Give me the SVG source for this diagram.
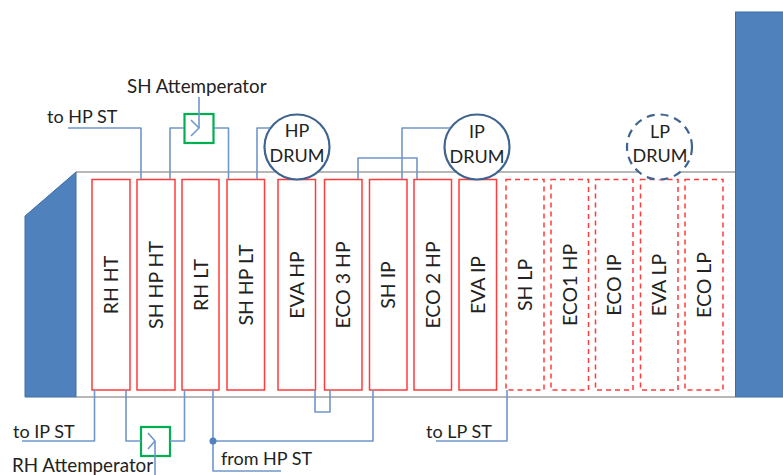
<svg xmlns="http://www.w3.org/2000/svg" width="783" height="475" viewBox="0 0 783 475">
<style>
text{font-family:Lato,"Liberation Sans",sans-serif;fill:#222;font-size:18px}
.c{text-anchor:middle}
.b{fill:#fff;stroke:#ff3b3b;stroke-width:1.5}
.d{fill:#fff;stroke:#ff3b3b;stroke-width:1.5;stroke-dasharray:5 4}
.w{fill:none;stroke:#6f97cc;stroke-width:1.6;stroke-linejoin:round}
.a{fill:none;stroke:#00b050;stroke-width:2.2}
.dr{fill:#fff;stroke:#3e648f;stroke-width:2.2}
.s{fill:#4f81bd;stroke:#3f6ea6;stroke-width:1}
.v{font-size:19.500px}
.l{font-size:18.800px}
</style>
<g id="casing">
<path d="M76 172H735M76 397H735" fill="none" stroke="#a0a0a0" stroke-width="1.5"/>
<path class="s" d="M25 216L76 172V397H25Z"/>
<rect class="s" x="735.500" y="12" width="48" height="385"/>
</g>
<g id="nodes">
<g id="rh-ht"><rect class="b" x="92" y="179.500" width="38" height="210.500"/><text class="c v" transform="translate(118 285) rotate(-90)">RH HT</text></g>
<g id="sh-hp-ht"><rect class="b" x="137" y="179.500" width="38" height="210.500"/><text class="c v" transform="translate(163 285) rotate(-90)">SH HP HT</text></g>
<g id="rh-lt"><rect class="b" x="182" y="179.500" width="37" height="210.500"/><text class="c v" transform="translate(208 285) rotate(-90)">RH LT</text></g>
<g id="sh-hp-lt"><rect class="b" x="227" y="179.500" width="37.500" height="210.500"/><text class="c v" transform="translate(253 285) rotate(-90)">SH HP LT</text></g>
<g id="eva-hp"><rect class="b" x="278" y="179.500" width="37.500" height="210.500"/><text class="c v" transform="translate(304 285) rotate(-90)">EVA HP</text></g>
<g id="eco3-hp"><rect class="b" x="324.500" y="179.500" width="37.500" height="210.500"/><text class="c v" transform="translate(350 285) rotate(-90)">ECO 3 HP</text></g>
<g id="sh-ip"><rect class="b" x="369.500" y="179.500" width="37.500" height="210.500"/><text class="c v" transform="translate(395 285) rotate(-90)">SH IP</text></g>
<g id="eco2-hp"><rect class="b" x="414" y="179.500" width="37.500" height="210.500"/><text class="c v" transform="translate(440 285) rotate(-90)">ECO 2 HP</text></g>
<g id="eva-ip"><rect class="b" x="459" y="179.500" width="37.500" height="210.500"/><text class="c v" transform="translate(485 285) rotate(-90)">EVA IP</text></g>
<g id="sh-lp"><rect class="d" x="506" y="179.500" width="38" height="210.500"/><text class="c v" transform="translate(532 285) rotate(-90)">SH LP</text></g>
<g id="eco1-hp"><rect class="d" x="551" y="179.500" width="37.500" height="210.500"/><text class="c v" transform="translate(577 285) rotate(-90)">ECO1 HP</text></g>
<g id="eco-ip"><rect class="d" x="595.500" y="179.500" width="37.500" height="210.500"/><text class="c v" transform="translate(621 285) rotate(-90)">ECO IP</text></g>
<g id="eva-lp"><rect class="d" x="640.500" y="179.500" width="37.500" height="210.500"/><text class="c v" transform="translate(666 285) rotate(-90)">EVA LP</text></g>
<g id="eco-lp"><rect class="d" x="685" y="179.500" width="38" height="210.500"/><text class="c v" transform="translate(711 285) rotate(-90)">ECO LP</text></g>
<g id="hp-drum"><circle class="dr" cx="297" cy="147" r="32.500"/><text class="c" x="297" y="137">HP</text><text class="c" x="297" y="162">DRUM</text></g>
<g id="ip-drum"><circle class="dr" cx="477" cy="147" r="32.500"/><text class="c" x="477" y="138">IP</text><text class="c" x="477" y="163">DRUM</text></g>
<g id="lp-drum"><circle class="dr" cx="659.500" cy="147" r="32.500" stroke-dasharray="8 6"/><text class="c" x="660" y="138">LP</text><text class="c" x="660" y="162">DRUM</text></g>
<g id="sh-attemperator"><rect class="a" x="184.500" y="114" width="29" height="29" fill="#fff"/></g>
<g id="rh-attemperator"><rect class="a" x="141" y="427" width="29" height="29" fill="#fff"/></g>
</g>
<g id="connectors">
<path class="w" d="M68 128H141V179"/>
<path class="w" d="M170 179V128H184"/>
<path class="w" d="M214 128H228.500V179"/>
<path class="w" d="M199 97V128"/>
<path class="w" d="M191 120L199 128L191 136"/>
<path class="w" d="M257 179V128H270"/>
<path class="w" d="M402 179V128H450"/>
<path class="w" d="M358 179V158H417V179"/>
<path class="w" d="M94.500 390V441H22"/>
<path class="w" d="M126 390V441H141"/>
<path class="w" d="M170 441H184.500V390"/>
<path class="w" d="M155 475V441"/>
<path class="w" d="M148 433L155 441L148 449"/>
<path class="w" d="M213 390V471H281"/>
<path class="w" d="M213 441H373V390"/>
<circle cx="213" cy="441" r="3.500" fill="#4f81bd"/>
<path class="w" d="M315 390V412H330V390"/>
<path class="w" d="M436 441H507V390"/>
</g>
<g id="labels">
<text class="l" x="127" y="93">SH Attemperator</text>
<text x="47" y="123">to HP ST</text>
<text x="13" y="438">to IP ST</text>
<text class="l" x="12" y="472">RH Attemperator</text>
<text x="221" y="465">from HP ST</text>
<text x="426" y="438">to LP ST</text>
</g>
</svg>
